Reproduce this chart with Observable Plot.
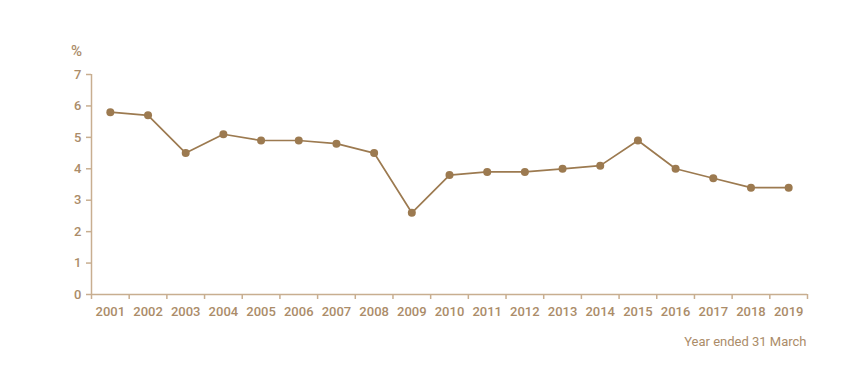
<!DOCTYPE html>
<html><head><meta charset="utf-8">
<script src="https://cdn.jsdelivr.net/npm/d3@7"></script>
<script src="https://cdn.jsdelivr.net/npm/@observablehq/plot@0.6"></script>
<style>body{margin:0;background:#fff;font-family:Roboto,sans-serif}</style>
</head><body><div id="chart"></div>
<script>
const years = [2001,2002,2003,2004,2005,2006,2007,2008,2009,2010,2011,2012,2013,2014,2015,2016,2017,2018,2019];
const values = [5.8,5.7,4.5,5.1,4.9,4.9,4.8,4.5,2.6,3.8,3.9,3.9,4.0,4.1,4.9,4.0,3.7,3.4,3.4];
const yTicks = [0,1,2,3,4,5,6,7];
const xLabel = "Year ended 31 March";
const yLabel = "%";

const data = years.map((y,i)=>({year:y, value:values[i]}));
const boundaries = [years[0]-0.5, ...years.map(y=>y+0.5)];
const axisColor = "#c8ae90";
const textColor = "#ab8c69";
const lineColor = "#9c7a50";

const chart = Plot.plot({
  width: 865, height: 382,
  marginLeft: 91, marginRight: 58, marginTop: 74, marginBottom: 88,
  style: {fontFamily: "Roboto, sans-serif", fontSize: "13px", fontWeight: 500, color: textColor},
  x: {domain: [years[0]-0.5, years[years.length-1]+0.5]},
  y: {domain: [0, 7]},
  marks: [
    Plot.ruleY([0], {stroke: axisColor, strokeWidth: 1.5}),
    Plot.ruleX([years[0]-0.5], {y1: 0, y2: 7, stroke: axisColor, strokeWidth: 1.5}),
    Plot.axisY({ticks: yTicks, tickFormat: d=>String(d), tickSize: 5, tickPadding: 5, stroke: axisColor, strokeWidth: 1.5, fill: textColor, label: null}),
    Plot.axisX({ticks: boundaries, tickFormat: () => "", tickSize: 5, stroke: axisColor, strokeWidth: 1.5, label: null}),
    Plot.axisX({ticks: years, tickFormat: d=>String(d), tickSize: 0, tickPadding: 12, fill: textColor, label: null}),
    Plot.line(data, {x: "year", y: "value", stroke: lineColor, strokeWidth: 1.7}),
    Plot.dot(data, {x: "year", y: "value", r: 4, fill: lineColor, stroke: "none"}),
    Plot.text([yLabel], {frameAnchor: "top-left", dx: -15, dy: -29, fill: textColor, fontSize: 15, textAnchor: "middle"}),
    Plot.text([xLabel], {frameAnchor: "bottom-right", dx: -1, dy: 51, fill: textColor, fontSize: 13, fontWeight: 400, textAnchor: "end"})
  ]
});
document.getElementById("chart").appendChild(chart);
</script></body></html>
